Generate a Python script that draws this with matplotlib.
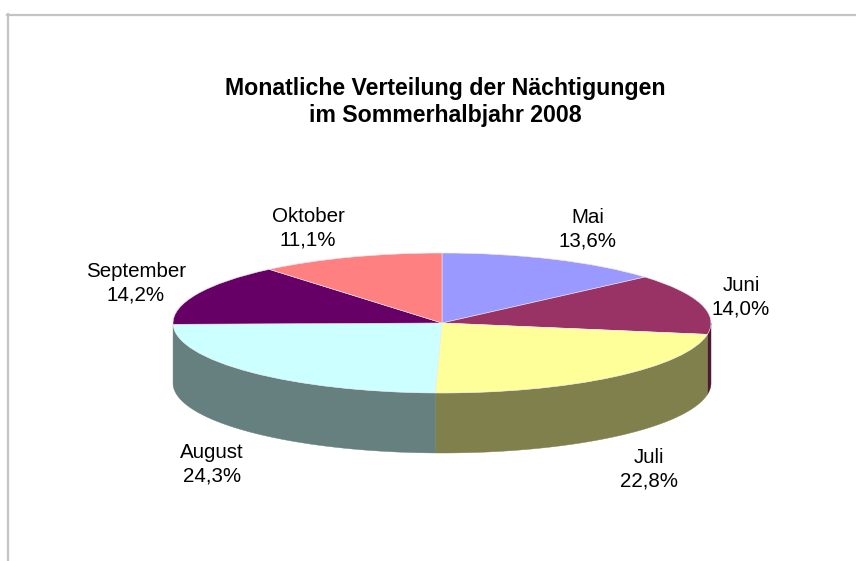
import numpy as np
import matplotlib
matplotlib.use("Agg")
import matplotlib.pyplot as plt
from matplotlib.lines import Line2D

plt.rcParams['font.family'] = ['Liberation Sans', 'DejaVu Sans']

months = ["Mai", "Juni", "Juli", "August", "September", "Oktober"]
shares = [13.6, 14.0, 22.8, 24.3, 14.2, 11.1]
labels_pct = ["13,6%", "14,0%", "22,8%", "24,3%", "14,2%", "11,1%"]
top_colors = ["#9999FF", "#993366", "#FFFF99", "#CCFFFF", "#660066", "#FF8080"]
side_colors = ["#4D4D80", "#4D1A33", "#80804D", "#668080", "#330033", "#804040"]
title = "Monatliche Verteilung der Nächtigungen\nim Sommerhalbjahr 2008"

W, H = 856, 561
fig = plt.figure(figsize=(W / 100, H / 100), dpi=100, facecolor="white")

# Frame lines (only top and left are in view)
for xs, ys in [((7.5, W), (15, 15)), ((8, 8), (14, H))]:
    fig.add_artist(Line2D([x / W for x in xs], [1 - y / H for y in ys],
                          color="#C4C4C4", lw=1.6))

# Ellipse-shaped pie: unit circle stretched over this rectangle
cx, cy, rx, ry, depth = 442, 323, 269, 70, 60
ax = fig.add_axes([(cx - rx) / W, 1 - (cy + ry) / H, 2 * rx / W, 2 * ry / H])

fracs = np.array(shares) / sum(shares)
edges = np.concatenate([[0], np.cumsum(fracs)]) * 2 * np.pi
d = depth / ry

for i in range(len(shares)):
    a0, a1 = max(edges[i], np.pi / 2), min(edges[i + 1], 3 * np.pi / 2)
    if a1 - a0 > np.radians(2):
        t = np.linspace(a0, a1, 120)
        x, y = np.sin(t), np.cos(t)
        ax.fill(np.r_[x, x[::-1]], np.r_[y, y[::-1] - d],
                color=side_colors[i], lw=0.3, clip_on=False, zorder=1)

wedges, _ = ax.pie(shares, colors=top_colors, startangle=90, counterclock=False,
                   radius=1, wedgeprops=dict(linewidth=0.4, edgecolor="#F0E8F0"))
for w in wedges:
    w.set_clip_on(False)
    w.set_zorder(2)
ax.set_aspect("auto")
ax.set_xlim(-1, 1)
ax.set_ylim(-1, 1)
ax.axis("off")

fig.text(445 / W, 1 - 102 / H, title, ha="center", va="center", fontsize=16.7,
         fontweight="bold", linespacing=1.23, color="black")

label_pos = [(588, 229.5), (741, 297), (649, 469.5), (212, 464.5), (136, 283.5), (308, 228)]
for m, p, (lx, ly) in zip(months, labels_pct, label_pos):
    fig.text(lx / W, 1 - ly / H, f"{m}\n{p}", ha="center", va="center",
             fontsize=14.8, linespacing=1.28, color="black")

fig.savefig("out.png", dpi=100)
